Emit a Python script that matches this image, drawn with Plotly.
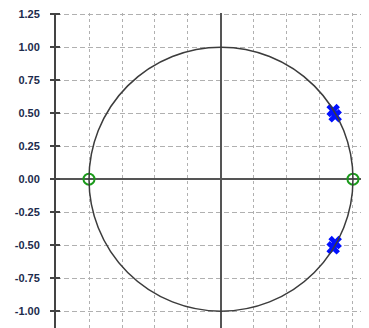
import plotly.graph_objects as go

# Data
zeros_re = [-1.0, 1.0]
zeros_im = [0.0, 0.0]
poles_re = [0.85, 0.865, 0.865, 0.85]
poles_im = [0.52, 0.48, -0.48, -0.52]
y_ticks = [1.25, 1.00, 0.75, 0.50, 0.25, 0.00, -0.25, -0.50, -0.75, -1.00]
y_tick_labels = ["1.25", "1.00", "0.75", "0.50", "0.25", "0.00", "-0.25", "-0.50", "-0.75", "-1.00"]
x_grid = [-1.0, -0.75, -0.5, -0.25, 0.0, 0.25, 0.5, 0.75, 1.0]
circle_radius = 1.0

y_range = [-1.188, 1.259]

fig = go.Figure()

fig.add_shape(type="circle", xref="x", yref="y",
              x0=-circle_radius, y0=-circle_radius, x1=circle_radius, y1=circle_radius,
              line=dict(color="#3c3c3c", width=1.5), layer="above")

fig.add_trace(go.Scatter(x=zeros_re, y=zeros_im, mode="markers",
                         marker=dict(symbol="circle-open", size=11, color="#1b9a1b",
                                     line=dict(width=2, color="#1b9a1b")),
                         showlegend=False, hoverinfo="skip"))
fig.add_trace(go.Scatter(x=poles_re, y=poles_im, mode="markers",
                         marker=dict(symbol="x", size=12, color="#0010ff"),
                         showlegend=False, hoverinfo="skip"))

fig.update_layout(
    width=369, height=328,
    margin=dict(l=48, r=0, t=5, b=0),
    plot_bgcolor="white", paper_bgcolor="white",
    xaxis=dict(range=[-1.25, 1.182], tickvals=x_grid, showticklabels=False,
               showgrid=True, gridcolor="#b0b0b0", gridwidth=1, griddash="3px,3px",
               zeroline=True, zerolinecolor="#555555", zerolinewidth=2,
               showline=False, ticks="", automargin=False),
    yaxis=dict(range=y_range, tickvals=y_ticks, ticktext=y_tick_labels,
               showgrid=True, gridcolor="#b0b0b0", gridwidth=1, griddash="5px,3px",
               zeroline=True, zerolinecolor="#555555", zerolinewidth=2,
               showline=True, linecolor="#444444", linewidth=2,
               ticks="outside", ticklen=4, tickwidth=2, tickcolor="#444444",
               ticklabelstandoff=8, automargin=False, ticklabeloverflow="allow",
               tickfont=dict(family="Liberation Sans", size=11, color="#1c2b4c", weight="bold")),
    yaxis2=dict(range=y_range, tickvals=y_ticks, overlaying="y", side="left",
                showticklabels=False, showgrid=False, zeroline=False, automargin=False,
                ticks="inside", ticklen=4, tickwidth=2, tickcolor="#444444"),
)
fig.add_trace(go.Scatter(x=[None], y=[None], yaxis="y2", showlegend=False))

fig.write_html("out.html")
